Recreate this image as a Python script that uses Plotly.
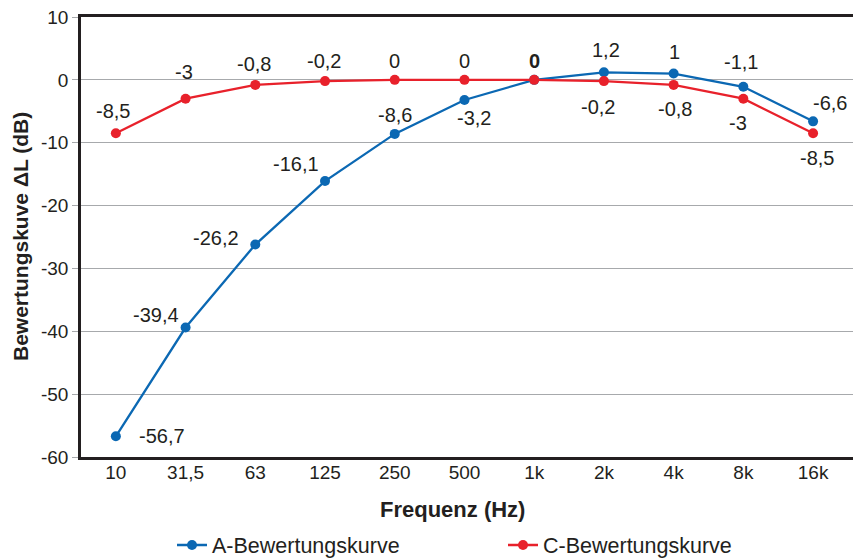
import plotly.graph_objects as go

# ── Data ─────────────────────────────────────────────────────────────────────
freqs = ["10", "31,5", "63", "125", "250", "500", "1k", "2k", "4k", "8k", "16k"]
a_vals = [-56.7, -39.4, -26.2, -16.1, -8.6, -3.2, 0, 1.2, 1, -1.1, -6.6]
c_vals = [-8.5, -3, -0.8, -0.2, 0, 0, 0, -0.2, -0.8, -3, -8.5]
y_ticks = [10, 0, -10, -20, -30, -40, -50, -60]

# label offsets in pixels (dx right, dy down) – purely layout
a_offsets = [(46, 0), (-30, -13), (-39, -7), (-29, -17), (0, -19), (10, 18),
             (0, -19), (2, -22), (1, -22), (-2, -25), (17, -18)]
c_offsets = [(-3, -22), (-2, -27), (-1, -21), (-1, -20), (0, -19), (0, -19),
             (0, -19), (-6, 26), (1, 24), (-5, 24), (4, 25)]

BLUE = "#0b68b3"
RED = "#e8212b"
INK = "#231f20"
GRID = "#a7a9ac"
FONT = "Liberation Sans, Arial, sans-serif"

# page body has an 8px margin -> figure coords = page coords - 8
OFF = 8
W, H = 861 - OFF, 558 - OFF
L, R, T, B = 81 - OFF, 857 - OFF, 17 - OFF, 457 - OFF
PW, PH = R - L, B - T


def fmt(v):
    return ("%g" % v).replace(".", ",")


fig = go.Figure()

fig.add_trace(go.Scatter(
    x=freqs, y=a_vals, name="A-Bewertungskurve",
    mode="lines+markers",
    line=dict(color=BLUE, width=2.3),
    marker=dict(color=BLUE, size=10),
))
fig.add_trace(go.Scatter(
    x=freqs, y=c_vals, name="C-Bewertungskurve",
    mode="lines+markers",
    line=dict(color=RED, width=2.3),
    marker=dict(color=RED, size=10),
))

# ── Point labels ─────────────────────────────────────────────────────────────
for vals, offs, series in ((a_vals, a_offsets, "A"), (c_vals, c_offsets, "C")):
    for i, (f, v, (dx, dy)) in enumerate(zip(freqs, vals, offs)):
        txt = fmt(v)
        if f == "1k":
            # reference point: both curves 0 dB, labelled once in bold
            if series == "C":
                continue
            txt = "<b>%s</b>" % txt
        fig.add_annotation(
            x=i, y=v, xref="x", yref="y", text=txt, showarrow=False,
            xshift=dx, yshift=-dy, xanchor="center", yanchor="middle",
            font=dict(family=FONT, size=20, color=INK),
        )

# axis titles as annotations
fig.add_annotation(
    xref="paper", yref="paper", x=(20 - OFF - L) / PW, y=0.5,
    text="<b>Bewertungskuve ΔL (dB)</b>", textangle=-90, showarrow=False,
    xanchor="center", yanchor="middle",
    font=dict(family=FONT, size=21, color=INK),
)
fig.add_annotation(
    xref="paper", yref="paper", x=(452 - OFF - L) / PW, y=(B - (510 - OFF)) / PH,
    text="<b>Frequenz (Hz)</b>", showarrow=False,
    xanchor="center", yanchor="middle",
    font=dict(family=FONT, size=22, color=INK),
)

# ── Layout ───────────────────────────────────────────────────────────────────
fig.update_layout(
    width=W, height=H,
    margin=dict(l=L, r=W - R, t=T, b=H - B, autoexpand=False),
    paper_bgcolor="white", plot_bgcolor="white",
    font=dict(family=FONT, size=19, color=INK),
    showlegend=True,
    legend=dict(
        orientation="h", x=(172 - OFF - L) / PW, xanchor="left",
        y=(B - (545 - OFF)) / PH, yanchor="middle",
        entrywidth=286, entrywidthmode="pixels",
        font=dict(family=FONT, size=21.5, color=INK),
        bgcolor="rgba(0,0,0,0)",
    ),
    xaxis=dict(
        type="category",
        range=[-0.5, 10.63], showgrid=False, zeroline=False,
        showline=True, mirror=True, linecolor=INK, linewidth=2.5,
        ticks="", tickfont=dict(size=19, color=INK),
        ticklabelstandoff=-4,
    ),
    yaxis=dict(
        range=[-60, 10], tickvals=y_ticks, ticktext=[fmt(t) for t in y_ticks],
        showgrid=True, gridcolor=GRID, gridwidth=1, zeroline=False,
        showline=True, mirror=True, linecolor=INK, linewidth=2.5,
        ticks="outside", ticklen=6, tickcolor=GRID, tickwidth=1,
        tickfont=dict(size=19, color=INK),
        ticklabeloverflow="allow",
    ),
)

fig.write_html("out.html")
